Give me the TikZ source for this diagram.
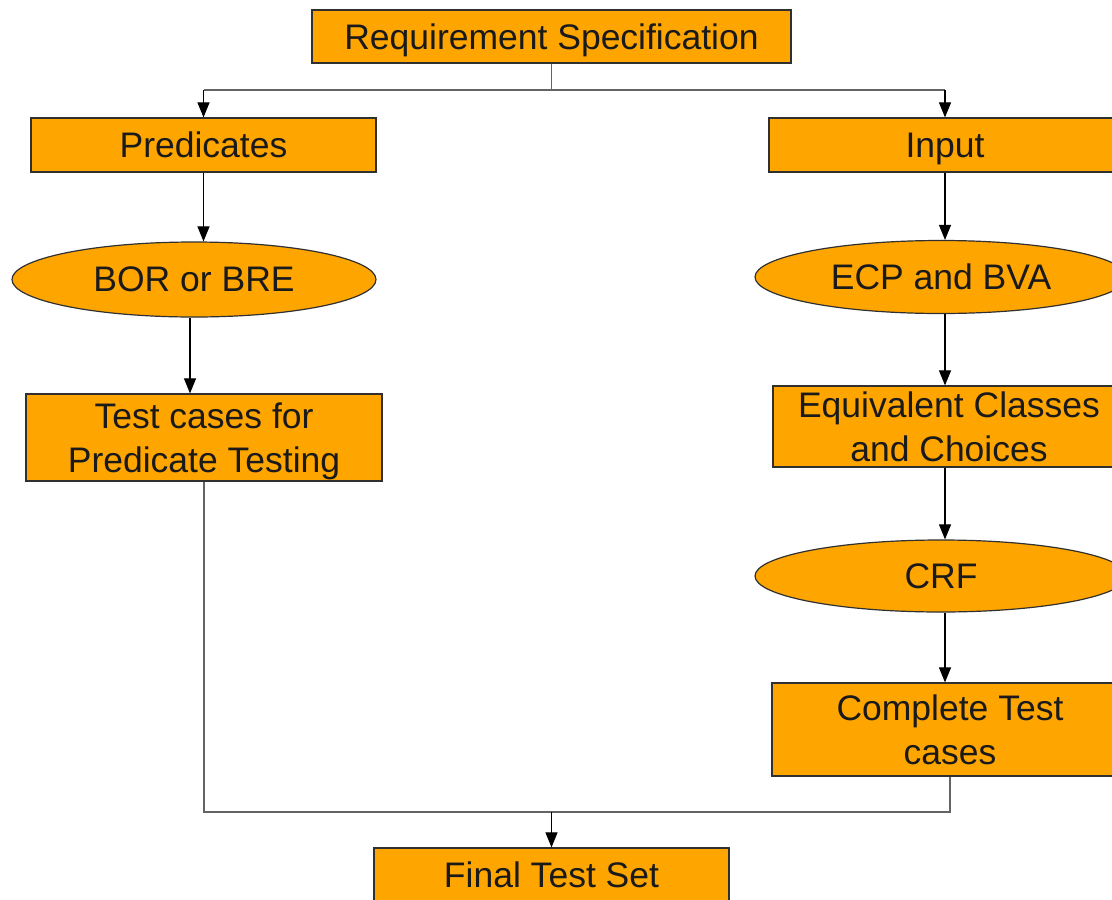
\documentclass[tikz,border=0pt]{standalone}
\usepackage{fontspec}
\setmainfont{Liberation Sans}
\usepackage{xcolor}
\usepackage{tikz}
\usetikzlibrary{shapes.geometric,arrows.meta}
\definecolor{boxorange}{HTML}{FFA500}
\definecolor{boxline}{HTML}{303030}
\definecolor{textdark}{HTML}{1A1A1A}

\begin{document}
\begin{tikzpicture}[x=1pt, y=-1pt,
                    every node/.style={font=\fontsize{35.5}{44}\selectfont, text=textdark, align=center, text depth=0pt},
                    stagebox/.style={draw=boxline, line width=1.2pt, fill=boxorange, rectangle, inner sep=0pt},
                    stageoval/.style={draw=boxline, line width=1.2pt, fill=boxorange, ellipse, inner sep=0pt},
                    flow/.style={draw=boxline!75, line width=1.2pt},
                    flowarrow/.style={draw=black, line width=1.1pt, -{Triangle[width=12pt,length=15pt]}}]
  \clip (0,0) rectangle (1112,900);
  \node[stagebox, minimum width=479pt, minimum height=53pt] (req) at (551.5,36.5) {Requirement Specification};
  \node[stagebox, minimum width=345pt, minimum height=54pt] (pred) at (203.5,145) {Predicates};
  \node[stagebox, minimum width=352pt, minimum height=54pt] (inp) at (945,145) {Input};
  \node[stageoval, minimum width=364pt, minimum height=75pt] (bor) at (194,279.5) {BOR or BRE};
  \node[stageoval, minimum width=372pt, minimum height=73pt] (ecp) at (941,277) {ECP and BVA};
  \node[stagebox, minimum width=356pt, minimum height=87pt] (tc) at (204,437.5) {Test cases for\\Predicate Testing};
  \node[stagebox, minimum width=352pt, minimum height=81pt] (eq) at (949,426.5) {Equivalent Classes\\and Choices};
  \node[stageoval, minimum width=372pt, minimum height=72pt] (crf) at (941,576) {CRF};
  \node[stagebox, minimum width=356pt, minimum height=93pt] (comp) at (950,729.5) {Complete Test\\cases};
  \node[stagebox, minimum width=355pt, minimum height=54pt] (fin) at (551.5,875) {Final Test Set};

  \coordinate (split) at (req.south |- 0,90);
  \coordinate (join) at (fin.north |- 0,812);
  \draw[flow] (req.south) -- (split);
  \draw[flow] (pred.north |- split) -- (inp.north |- split);
  \draw[flowarrow] (pred.north |- split) -- (pred.north);
  \draw[flowarrow] (inp.north |- split) -- (inp.north);
  \draw[flowarrow] (pred.south) -- (pred.south |- bor.north);
  \draw[flowarrow] (bor.south -| 190,0) -- (tc.north -| 190,0);
  \draw[flowarrow] (inp.south) -- (inp.south |- ecp.north);
  \draw[flowarrow] (inp.south |- ecp.south) -- (inp.south |- eq.north);
  \draw[flowarrow] (inp.south |- eq.south) -- (inp.south |- crf.north);
  \draw[flowarrow] (inp.south |- crf.south) -- (inp.south |- comp.north);
  \draw[flow] (tc.south) |- (join);
  \draw[flow] (comp.south) |- (join);
  \draw[flowarrow] (join) -- (fin.north);
\end{tikzpicture}
\end{document}
